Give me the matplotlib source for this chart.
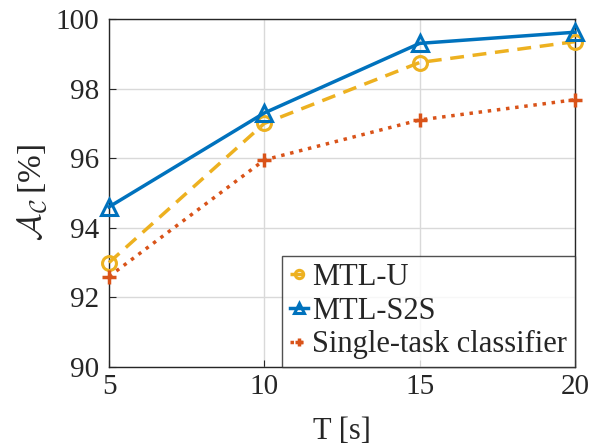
import numpy as np
import matplotlib
matplotlib.use("Agg")
import matplotlib.pyplot as plt

plt.rcParams['font.family'] = ['Liberation Serif', 'DejaVu Serif']
plt.rcParams['mathtext.fontset'] = 'cm'

T = [5, 10, 15, 20]
mtl_u = [93.0, 97.0, 98.75, 99.35]
mtl_s2s = [94.6, 97.3, 99.3, 99.62]
single = [92.6, 95.95, 97.1, 97.68]
names = ['MTL-U', 'MTL-S2S', 'Single-task classifier']

yellow = '#EDB120'
blue = '#0072BD'
orange = '#D95319'

fig = plt.figure(figsize=(5.92, 4.48), dpi=100)
ax = fig.add_axes([109/592, 1 - 367/448, (575-109)/592, (367-19)/448])

ax.plot(T, mtl_u, '--', color=yellow, lw=2.5, marker='o', ms=10, mfc='none',
        mew=2.2, label=names[0], dashes=(4, 2.5), clip_on=False, zorder=3)
ax.plot(T, mtl_s2s, '-', color=blue, lw=2.5, marker='^', ms=11, mfc='none',
        mew=2.2, label=names[1], clip_on=False, zorder=3)
ax.plot(T, single, ':', color=orange, lw=2.5, marker='+', ms=10,
        mew=2.5, label=names[2], clip_on=False, zorder=3)

ax.set_xlim(5, 20)
ax.set_ylim(90, 100)
ax.set_xticks(T)
ax.set_yticks(np.arange(90, 101, 2))
ax.grid(True, color='#d9d9d9', lw=1)
ax.set_axisbelow(True)
ax.tick_params(direction='in', labelsize=21, length=5, color='#262626',
               labelcolor='#262626')
ax.tick_params(axis='x', pad=5)
ax.tick_params(axis='y', pad=7)
for s in ax.spines.values():
    s.set_color('#262626')
    s.set_linewidth(1)

ax.set_xlabel('T [s]', fontsize=22, color='#262626', labelpad=12)
ax.set_ylabel(r'$\mathcal{A}_{\mathcal{C}}\,$[%]', fontsize=24, color='#262626',
              labelpad=4)

leg = ax.legend(loc='lower right', fontsize=22, frameon=True, fancybox=False,
                edgecolor='#262626', handlelength=0.6, handletextpad=0.15,
                borderpad=0.25, labelspacing=0.15, borderaxespad=0,
                markerscale=0.6)
leg.get_frame().set_linewidth(1)
leg.set_zorder(5)
for t in leg.get_texts():
    t.set_color('#262626')

fig.savefig('out.png', dpi=100)
